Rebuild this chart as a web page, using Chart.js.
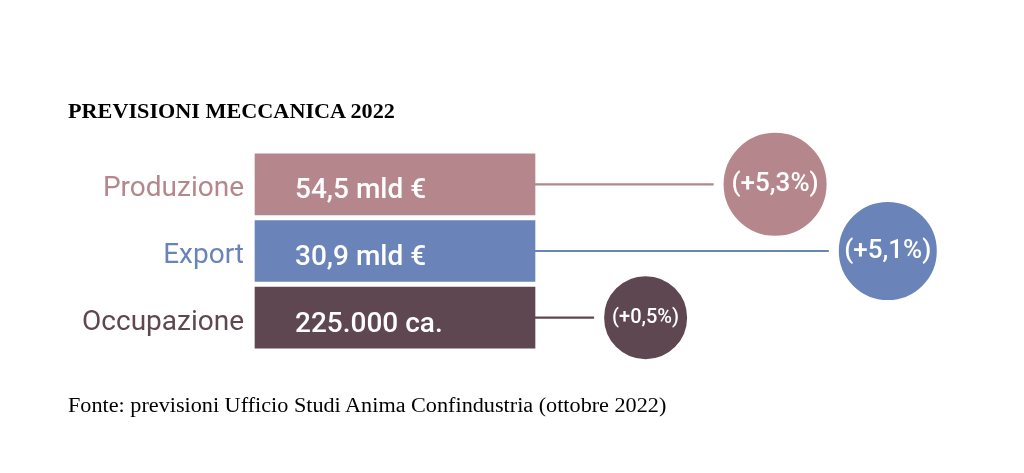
<!DOCTYPE html>
<html>
<head>
  <title>Previsioni Meccanica 2022</title>
  <script src="https://cdn.jsdelivr.net/npm/chart.js"></script>
  <style>
    body {
      margin: 0;
      background: #fff;
    }
    .wrap {
      position: relative;
      width: 1024px;
      height: 473px;
    }
    canvas {
      position: absolute;
      left: 0;
      top: 0;
    }
    .titolo, .fonte {
      position: absolute;
      left: 68px;
      font-family: "Liberation Serif", "Times New Roman", serif;
      font-size: 20px;
      line-height: 20px;
      color: #000;
      white-space: nowrap;
      transform: scaleX(1.11);
      transform-origin: left center;
    }
    .titolo { top: 101px; font-weight: bold; }
    .fonte { top: 395px; }
  </style>
</head>
<body>
  <div class="wrap">
    <canvas id="grafico" width="1024" height="473"></canvas>
    <div class="titolo">PREVISIONI MECCANICA 2022</div>
    <div class="fonte">Fonte: previsioni Ufficio Studi Anima Confindustria (ottobre 2022)</div>
  </div>

  <script>
    // dati
    const categorie = ['Produzione', 'Export', 'Occupazione'];
    const valori = ['54,5 mld €', '30,9 mld €', '225.000 ca.'];
    const crescita = [5.3, 5.1, 0.5];
    const etichetteCrescita = crescita.map(v => '(+' + v.toFixed(1).replace('.', ',') + '%)');

    // impaginazione (unità dell'asse x nascosto, 0-100)
    const FINE_BARRA = 40;
    const cerchioX = [74.3, 90.4, 55.8];
    const cerchioR = [51.5, 49, 41.5];
    const colori = ['#b5868b', '#6a83b8', '#5e4750'];
    const FONT = 'Roboto, "DejaVu Sans", sans-serif';

    const testi = {
      id: 'testi',
      afterDatasetsDraw(chart) {
        const ctx = chart.ctx;
        ctx.save();
        ctx.fillStyle = '#fff';

        // testo dentro le barre
        chart.getDatasetMeta(1).data.forEach((el, i) => {
          ctx.font = '500 28px ' + FONT;
          ctx.textAlign = 'left';
          ctx.textBaseline = 'alphabetic';
          ctx.fillText(valori[i], el.base + 40, el.y + 14);
        });

        // testo dentro i cerchi
        chart.getDatasetMeta(0).data.forEach((el, i) => {
          const size = cerchioR[i] > 45 ? 26 : 20;
          ctx.font = '500 ' + size + 'px ' + FONT;
          ctx.textAlign = 'center';
          ctx.textBaseline = 'middle';
          ctx.fillText(etichetteCrescita[i], el.x, el.y);
        });
        ctx.restore();
      }
    };

    new Chart(document.getElementById('grafico'), {
      type: 'bar',
      data: {
        labels: categorie,
        datasets: [
          {
            type: 'bubble',
            data: categorie.map((c, i) => ({ x: cerchioX[i], y: c, r: cerchioR[i] + 5 })),
            backgroundColor: colori,
            borderColor: '#fff',
            borderWidth: 10,
            hoverRadius: 0,
            clip: false,
            order: 0
          },
          {
            indexAxis: 'y',
            data: categorie.map(() => [0, FINE_BARRA]),
            backgroundColor: colori,
            barThickness: 61,
            grouped: false,
            clip: false,
            order: 1
          },
          {
            // linee di collegamento barra -> cerchio
            indexAxis: 'y',
            data: categorie.map((c, i) => [FINE_BARRA, cerchioX[i]]),
            backgroundColor: colori,
            barThickness: 1.5,
            grouped: false,
            clip: false,
            order: 2
          }
        ]
      },
      options: {
        responsive: false,
        animation: false,
        events: [],
        layout: {
          autoPadding: false,
          padding: { top: 151, bottom: 122, left: 0, right: 69 }
        },
        scales: {
          x: {
            type: 'linear',
            min: 0,
            max: 100,
            offset: false,
            grid: { offset: false },
            display: false
          },
          y: {
            type: 'category',
            offset: true,
            grid: { display: false, drawTicks: false, offset: true },
            border: { display: false },
            afterFit(scale) { scale.width = 255; },
            ticks: {
              padding: 11,
              labelOffset: 5,
              color: ctx => colori[ctx.index],
              font: { family: FONT, size: 28, weight: '400' }
            }
          }
        },
        plugins: {
          legend: { display: false },
          tooltip: { enabled: false }
        }
      },
      plugins: [testi]
    });
  </script>
</body>
</html>
